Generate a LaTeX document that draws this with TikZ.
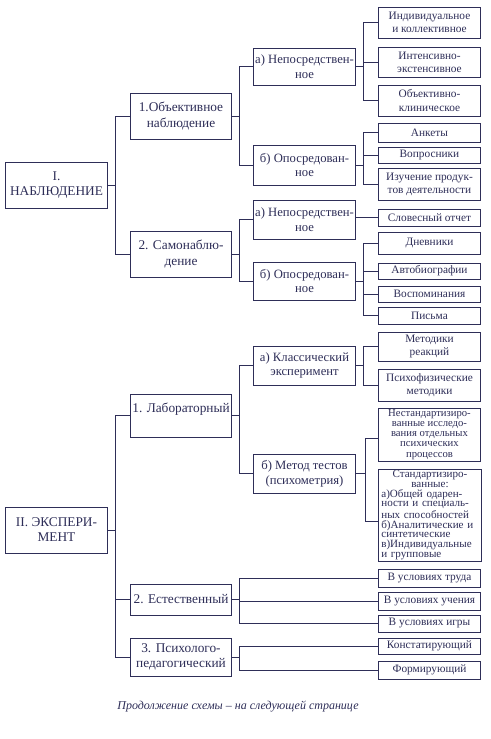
\documentclass[tikz,border=0pt]{standalone}
\usepackage{fontspec}
\setmainfont{Liberation Serif}
\usepackage{xcolor}
\usetikzlibrary{positioning,calc}
\definecolor{Navy}{HTML}{2E2E58}
\definecolor{Paper}{HTML}{FFFFFF}
\tikzset{levelbox/.style={rectangle,draw=Navy,line width=0.7pt,fill=Paper,minimum width=76pt,align=center,text=Navy,inner sep=1pt,font=\fontsize{10}{11.3}\selectfont},subbox/.style={levelbox,font=\fontsize{9.5}{11}\selectfont},leafbox/.style={rectangle,draw=Navy,line width=0.7pt,fill=Paper,minimum width=77pt,align=center,text=Navy,inner sep=1pt,font=\fontsize{8.5}{9.8}\selectfont},link/.style={draw=Navy,line width=0.7pt}}

\begin{document}
\begin{tikzpicture}[x=0.75pt,y=-0.75pt]
\useasboundingbox[fill=Paper] (0,0) rectangle (490,739);
\node[levelbox,minimum height=34.5pt] (nab) at (56.5,185) {I.\\НАБЛЮДЕНИЕ};\node[levelbox,minimum height=34.5pt] (exp) at (56.5,530) {II. ЭКСПЕРИ-\\МЕНТ};
\node[levelbox,minimum height=34.5pt] (obj) at (181,116) {1.Объективное\\наблюдение};\node[levelbox,minimum height=34.5pt] (self) at (181,254) {2. Самонаблю-\\дение};
\node[levelbox,minimum height=32.25pt] (lab) at (181,415.5) {1. Лабораторный\\ {}};\node[levelbox,minimum height=23.25pt] (nat) at (181,599.5) {2. Естественный};\node[levelbox,minimum height=28.5pt] (ped) at (181,657) {3. Психолого-\\педагогический};
\node[subbox,minimum height=27.75pt] (objA) at (304.5,66.5) {а) Непосредствен-\\ное};\node[subbox,minimum height=30pt] (objB) at (304.5,165) {б) Опосредован-\\ное};
\node[subbox,minimum height=29.25pt] (selfA) at (304.5,219.5) {а) Непосредствен-\\ное};\node[subbox,minimum height=28.5pt] (selfB) at (304.5,281) {б) Опосредован-\\ное};
\node[subbox,minimum height=29.25pt] (labA) at (304.5,365.5) {а) Классический\\эксперимент};\node[subbox,minimum height=29.25pt] (labB) at (304.5,473.5) {б) Метод тестов\\(психометрия)};
\node[leafbox,minimum height=23.25pt] (indiv) at (429.5,22.5) {Индивидуальное\\и коллективное};\node[leafbox,minimum height=22.5pt] (inten) at (429.5,62) {Интенсивно-\\экстенсивное};\node[leafbox,minimum height=23.25pt] (klin) at (429.5,100.5) {Объективно-\\клиническое};
\node[leafbox,minimum height=14.25pt] (anket) at (429.5,132.5) {Анкеты};\node[leafbox,minimum height=12pt] (vopros) at (429.5,155) {Вопросники};\node[leafbox,minimum height=24pt] (produkt) at (429.5,184) {Изучение продук-\\тов деятельности};
\node[leafbox,minimum height=12.75pt] (slovo) at (429.5,217.5) {Словесный отчет};
\node[leafbox,minimum height=16.5pt] (dnev) at (429.5,243) {Дневники};\node[leafbox,minimum height=12pt] (avto) at (429.5,271) {Автобиографии};\node[leafbox,minimum height=12pt] (vosp) at (429.5,294) {Воспоминания};\node[leafbox,minimum height=12.75pt] (pisma) at (429.5,315.5) {Письма};
\node[leafbox,minimum height=21.75pt] (reakc) at (429.5,346.5) {Методики\\реакций};\node[leafbox,minimum height=24pt] (psyf) at (429.5,385) {Психофизические\\методики};
\node[leafbox,minimum height=39.75pt,font=\fontsize{8}{7.6}\selectfont] (nestd) at (429.5,434.5) {Нестандартизиро-\\ванные исследо-\\вания отдельных\\психических\\процессов};
\node[leafbox,minimum height=69pt,text width=73pt,align=left,font=\fontsize{8.3}{7.3}\selectfont] (std) at (430,515) {\centering Стандартизиро-\\ванные:\par\raggedright а)Общей одарен-\\ности и специаль-\\ных способностей\\б)Аналитические и\\синтетические\\в)Индивидуальные\\и групповые};
\node[leafbox,minimum height=13.5pt] (trud) at (429.5,578) {В условиях труда};\node[leafbox,minimum height=13.5pt] (uchen) at (429.5,601) {В условиях учения};\node[leafbox,minimum height=12.75pt] (igra) at (429.5,623.5) {В условиях игры};
\node[leafbox,minimum height=12pt] (konst) at (429.5,646) {Констатирующий};\node[leafbox,minimum height=13.5pt] (form) at (429.5,670) {Формирующий};
\draw[link] (nab.east) -- ++(8,0) |- (obj.west);\draw[link] (nab.east) -- ++(8,0) |- (self.west);
\draw[link] (obj.east) -- ++(7,0) |- (objA.west);\draw[link] (obj.east) -- ++(7,0) |- (objB.west);
\draw[link] (objA.east) -- ++(8,0) |- (indiv.west);\draw[link] (objA.east) -- ++(8,0) |- (inten.west);\draw[link] (objA.east) -- ++(8,0) |- (klin.west);
\draw[link] (objB.east) -- ++(8,0) |- (anket.west);\draw[link] (objB.east) -- ++(8,0) |- (vopros.west);\draw[link] (objB.east) -- ++(8,0) |- (produkt.west);
\draw[link] (self.east) -- ++(7,0) |- (selfA.west);\draw[link] (self.east) -- ++(7,0) |- (selfB.west);
\draw[link] (slovo.west -| selfA.east) -- (slovo.west);
\draw[link] (selfB.east) -- ++(8,0) |- (dnev.west);\draw[link] (selfB.east) -- ++(8,0) |- (avto.west);\draw[link] (selfB.east) -- ++(8,0) |- (vosp.west);\draw[link] (selfB.east) -- ++(8,0) |- (pisma.west);
\draw[link] (exp.east) -- ++(8,0) |- (lab.west);\draw[link] (exp.east) -- ++(8,0) |- (nat.west);\draw[link] (exp.east) -- ++(8,0) |- (ped.west);
\draw[link] (lab.east) -- ++(7,0) |- (labA.west);\draw[link] (lab.east) -- ++(7,0) |- (labB.west);
\draw[link] (labA.east) -- ++(8,0) |- (reakc.west);\draw[link] (labA.east) -- ++(8,0) |- (psyf.west);
\draw[link] (labB.east) -- ++(10,0) |- ([yshift=-2.6pt]nestd.west);\draw[link] (labB.east) -- ++(10,0) |- ([yshift=-5.2pt]std.west);
\draw[link] (nat.east) -- ++(7,0) |- (trud.west);\draw[link] (nat.east) -- ++(7,0) |- (uchen.west);\draw[link] (nat.east) -- ++(7,0) |- (igra.west);
\draw[link] (ped.east) -- ++(7,0) |- (konst.west);\draw[link] (ped.east) -- ++(7,0) |- (form.west);
\node[text=Navy,font=\fontsize{9}{10}\selectfont\itshape] (note) at (238,707) {Продолжение схемы – на следующей странице};
\end{tikzpicture}
\end{document}
